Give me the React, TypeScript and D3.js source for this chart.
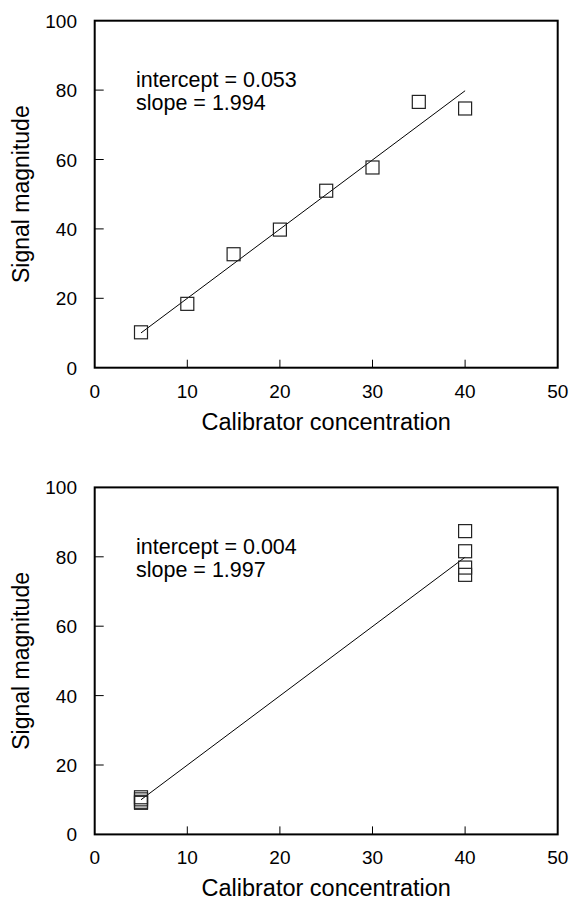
import React from "react";
import * as d3 from "d3";

const xTicks = [0, 10, 20, 30, 40, 50];
const yTicks = [0, 20, 40, 60, 80, 100];

const topX = [5, 10, 15, 20, 25, 30, 35, 40];
const topY = [10.2, 18.4, 32.7, 39.8, 51.0, 57.7, 76.6, 74.7];
const topIntercept = 0.053;
const topSlope = 1.994;

const bottomX = [5, 5, 5, 5, 40, 40, 40, 40];
const bottomY = [10.7, 10.1, 9.4, 9.1, 87.4, 81.6, 76.9, 74.8];
const bottomIntercept = 0.004;
const bottomSlope = 1.997;

const lineRange = [5, 40];

const FONT = "'Liberation Sans', Arial, sans-serif";

function Panel({ top, xs, ys, intercept, slope }: { top: number; xs: number[]; ys: number[]; intercept: number; slope: number }) {
  const left = 94.7;
  const right = 557.7;
  const height = 347;
  const x = d3.scaleLinear().domain([0, 50]).range([left, right]);
  const y = d3.scaleLinear().domain([0, 100]).range([top + height, top]);
  const line = d3
    .line<number>()
    .x((d) => x(d))
    .y((d) => y(intercept + slope * d));
  const size = 13;
  return (
    <g>
      <rect x={left} y={top} width={right - left} height={height} fill="none" stroke="#000" strokeWidth={2} />
      {xTicks.map((t) => (
        <g key={"x" + t}>
          {t > 0 && t < 50 && <line x1={x(t)} x2={x(t)} y1={top + height} y2={top + height - 8} stroke="#000" strokeWidth={1} />}
          <text x={x(t)} y={top + height + 30} textAnchor="middle" fontSize={19} fontFamily={FONT} fill="#000">
            {t}
          </text>
        </g>
      ))}
      {yTicks.map((t) => (
        <g key={"y" + t}>
          {t > 0 && t < 100 && <line x1={left} x2={left + 9} y1={y(t)} y2={y(t)} stroke="#000" strokeWidth={1} />}
          <text x={77} y={y(t) + 7} textAnchor="end" fontSize={19} fontFamily={FONT} fill="#000">
            {t}
          </text>
        </g>
      ))}
      <path d={line(lineRange) || ""} fill="none" stroke="#000" strokeWidth={1} />
      {xs.map((xv, i) => (
        <rect
          key={i}
          x={x(xv) - size / 2}
          y={y(ys[i]) - size / 2}
          width={size}
          height={size}
          fill="none"
          stroke="#222"
          strokeWidth={1.2}
        />
      ))}
      <text x={136} y={top + 66.5} fontSize={21.5} fontFamily={FONT} fill="#000">
        intercept = {intercept.toFixed(3)}
      </text>
      <text x={136} y={top + 89.5} fontSize={21.5} fontFamily={FONT} fill="#000">
        slope = {slope.toFixed(3)}
      </text>
      <text x={(left + right) / 2} y={top + height + 62} textAnchor="middle" fontSize={23.5} fontFamily={FONT} fill="#000">
        Calibrator concentration
      </text>
      <text
        transform={`translate(29, ${top + height / 2}) rotate(-90)`}
        textAnchor="middle"
        fontSize={23}
        fontFamily={FONT}
        fill="#000"
      >
        Signal magnitude
      </text>
    </g>
  );
}

export default function App() {
  return (
    <svg width={570} height={901} style={{ position: "absolute", left: 0, top: 0, background: "#fff" }}>
      <rect width={570} height={901} fill="#fff" />
      <Panel top={20.7} xs={topX} ys={topY} intercept={topIntercept} slope={topSlope} />
      <Panel top={487.4} xs={bottomX} ys={bottomY} intercept={bottomIntercept} slope={bottomSlope} />
    </svg>
  );
}
